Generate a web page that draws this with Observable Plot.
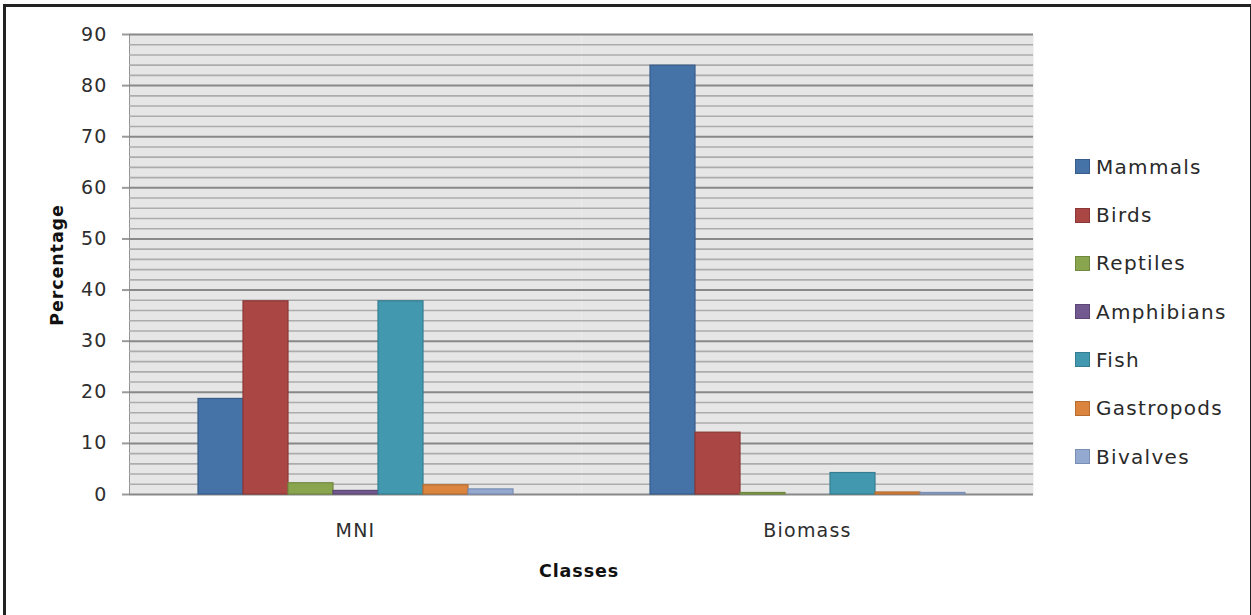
<!DOCTYPE html>
<html>
<head>
<meta charset="utf-8">
<script src="https://cdn.jsdelivr.net/npm/d3@7"></script>
<script src="https://cdn.jsdelivr.net/npm/@observablehq/plot@0.6"></script>
<style>
  body { margin: 0; background: #fff; }
  #wrap { position: relative; width: 1251px; height: 615px; overflow: hidden; background: #fff;
          font-family: "DejaVu Sans", sans-serif; }
  #chart { position: absolute; left: 0; top: 0; }
  #border { position: absolute; left: 3px; top: 4px; width: 1244px; height: 700px;
            border: 3px solid #222; border-bottom: none; pointer-events: none; }
  .title { position: absolute; font-weight: bold; font-size: 17.5px; letter-spacing: 0.9px;
           color: #111; white-space: nowrap; transform: translate(-50%, -50%); }
  #ytitle { left: 57px; top: 265px; transform: translate(-50%, -50%) rotate(-90deg); }
  #xtitle { left: 579px; top: 571px; }
  .item { position: absolute; left: 1075px; height: 24px; display: flex; align-items: center;
          font-size: 20px; letter-spacing: 1.3px; color: #2a2a2a; white-space: nowrap; }
  .sw { width: 13px; height: 13px; border: 1px solid; margin-right: 6px; }
  #chart svg text { font-size: 19px; letter-spacing: 1.2px; fill: #2e2e2e; }
  #chart svg g[aria-label^="y-axis"] line,
  #chart svg g[aria-label^="y-axis"] path { stroke: #9a9a9a; stroke-width: 2px; }
</style>
</head>
<body>
<div id="wrap">
  <div id="chart"></div>
  <div class="title" id="ytitle">Percentage</div>
  <div class="title" id="xtitle">Classes</div>
  <div id="legend"></div>
  <div id="border"></div>
</div>
<script>
// Share of each animal class, by minimum number of individuals and by biomass
const classes = ["MNI", "Biomass"];
const taxa = ["Mammals", "Birds", "Reptiles", "Amphibians", "Fish", "Gastropods", "Bivalves"];
const mniValues = [18.7, 37.8, 2.2, 0.7, 37.8, 1.8, 1.0];
const biomassValues = [83.9, 12.1, 0.3, 0, 4.2, 0.4, 0.3];
const fillColors = ["#4572a7", "#aa4643", "#89a54e", "#71588f", "#4198af", "#db843d", "#93a9cf"];
const strokeColors = ["#385d8a", "#8c3836", "#71893f", "#5c4776", "#357d91", "#b66d31", "#7a8db3"];
const yTicks = [0, 10, 20, 30, 40, 50, 60, 70, 80, 90];
const yMinor = d3.range(0, 91, 2).filter(v => v % 10 !== 0);

const rows = [];
taxa.forEach((t, i) => {
  rows.push({cls: classes[0], taxon: t, value: mniValues[i], i});
  rows.push({cls: classes[1], taxon: t, value: biomassValues[i], i});
});

const chart = Plot.plot({
  width: 1251,
  height: 615,
  marginLeft: 128,
  marginRight: 218,
  marginTop: 34,
  marginBottom: 121,
  style: {fontFamily: "DejaVu Sans, sans-serif", fontSize: "19px", color: "#404040",
          background: "transparent"},
  fx: {domain: classes, padding: 0, axis: "bottom", tickSize: 0, tickPadding: 29, label: null},
  x: {type: "band", domain: taxa, paddingInner: 0, paddingOuter: 1.5, axis: null},
  y: {domain: [0, 90], ticks: yTicks, tickSize: 7, tickPadding: 15, label: null, line: true},
  color: {type: "identity"},
  marks: [
    Plot.frame({fill: "#e6e6e6", stroke: "none"}),
    Plot.ruleY(yMinor, {stroke: "#acacac", strokeWidth: 1.6}),
    Plot.ruleY(yTicks, {stroke: "#888888", strokeWidth: 2}),
    Plot.barY(rows, {
      fx: "cls", x: "taxon", y: "value",
      fill: d => fillColors[d.i], stroke: d => strokeColors[d.i], strokeWidth: 1.2
    })
  ]
});
document.getElementById("chart").appendChild(chart);

// Legend, one row per taxon
const legend = document.getElementById("legend");
taxa.forEach((t, i) => {
  const item = document.createElement("div");
  item.className = "item";
  item.style.top = (166.7 + 48.3 * i - 12) + "px";
  const sw = document.createElement("span");
  sw.className = "sw";
  sw.style.background = fillColors[i];
  sw.style.borderColor = strokeColors[i];
  item.appendChild(sw);
  item.appendChild(document.createTextNode(t));
  legend.appendChild(item);
});
</script>
</body>
</html>
